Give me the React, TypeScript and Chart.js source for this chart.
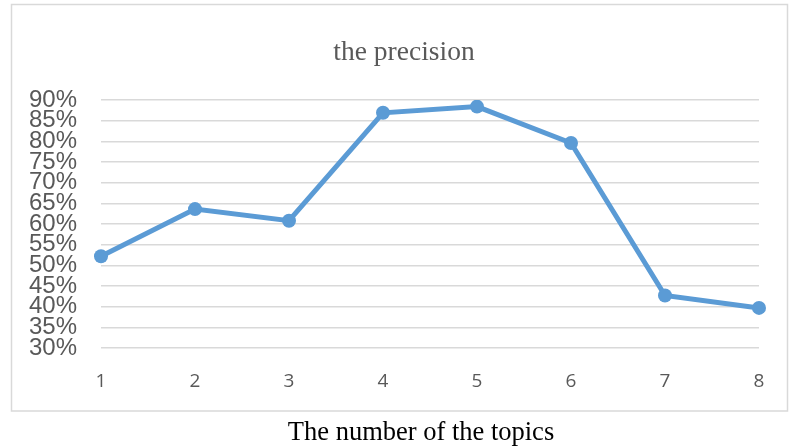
import React, { useEffect, useRef } from "react";
import { Chart, registerables } from "chart.js";

Chart.register(...registerables);

const categories: string[] = ["1", "2", "3", "4", "5", "6", "7", "8"];
const precision: number[] = [52.2, 63.6, 60.8, 86.9, 88.4, 79.6, 42.7, 39.7];
const yTickValues: number[] = [30, 35, 40, 45, 50, 55, 60, 65, 70, 75, 80, 85, 90];
const chartTitle = "the precision";
const xCaption = "The number of the topics";

const decorPlugin = {
  id: "decor",
  beforeDraw(chart: any) {
    const ctx = chart.ctx as CanvasRenderingContext2D;
    ctx.save();
    ctx.fillStyle = "#ffffff";
    ctx.fillRect(0, 0, chart.width, chart.height);
    ctx.strokeStyle = "#d9d9d9";
    ctx.lineWidth = 1.5;
    ctx.strokeRect(11.5, 4.5, 776, 406.5);
    ctx.restore();
  },
  afterDraw(chart: any) {
    const ctx = chart.ctx as CanvasRenderingContext2D;
    ctx.save();
    ctx.textAlign = "center";
    ctx.textBaseline = "alphabetic";
    ctx.fillStyle = "#595959";
    ctx.font = '27.5px "Liberation Serif", "Times New Roman", serif';
    ctx.fillText(chartTitle, 404, 59.5);
    ctx.fillStyle = "#000000";
    ctx.font = '26.5px "Liberation Serif", "Times New Roman", serif';
    ctx.fillText(xCaption, 421, 440);
    ctx.restore();
  },
};

export default function App() {
  const canvasRef = useRef<HTMLCanvasElement | null>(null);

  useEffect(() => {
    const canvas = canvasRef.current;
    if (!canvas) return;
    const chart = new Chart(canvas, {
      type: "line",
      data: {
        labels: categories,
        datasets: [
          {
            label: chartTitle,
            data: precision,
            borderColor: "#5B9BD5",
            backgroundColor: "#5B9BD5",
            borderWidth: 5,
            pointRadius: 7,
            pointBackgroundColor: "#5B9BD5",
            pointBorderColor: "#5B9BD5",
            pointBorderWidth: 0,
            tension: 0,
          },
        ],
      },
      options: {
        responsive: false,
        animation: false,
        layout: { padding: { left: 0, right: 30, top: 100, bottom: 0 } },
        plugins: {
          legend: { display: false },
          title: { display: false },
          tooltip: { enabled: false },
        },
        scales: {
          x: {
            offset: false,
            grid: { display: false, drawTicks: false },
            border: { display: false },
            ticks: {
              color: "#595959",
              padding: 22,
              font: { family: '"Open Sans", sans-serif', size: 19 },
            },
            afterFit(scale: any) {
              scale.height = 100;
            },
          },
          y: {
            min: 30,
            max: 90,
            afterBuildTicks(scale: any) {
              scale.ticks = yTickValues.map((v) => ({ value: v }));
            },
            grid: { color: "#d9d9d9", lineWidth: 1.5, drawTicks: false },
            border: { display: false },
            ticks: {
              autoSkip: false,
              color: "#595959",
              padding: 24,
              font: { family: '"Liberation Sans", Arial, sans-serif', size: 24 },
              callback: (v: any) => `${v}%`,
            },
            afterFit(scale: any) {
              scale.width = 101;
            },
          },
        },
      },
      plugins: [decorPlugin],
    });
    return () => chart.destroy();
  }, []);

  return (
    <div style={{ position: "absolute", left: 0, top: 0, width: 789, height: 448, background: "#fff" }}>
      <canvas ref={canvasRef} width={789} height={448} style={{ display: "block", width: 789, height: 448 }} />
    </div>
  );
}
